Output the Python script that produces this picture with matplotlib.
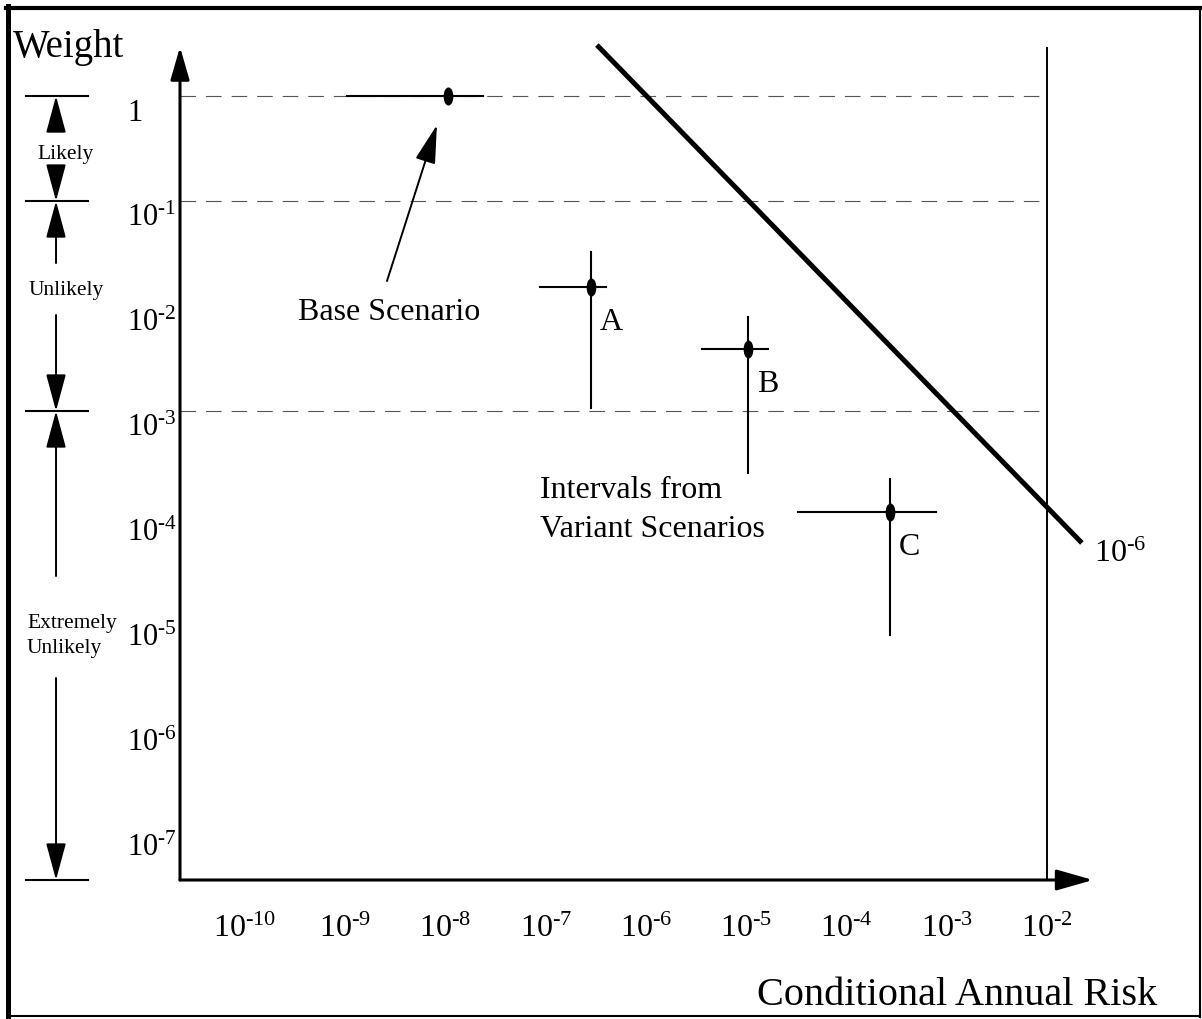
import matplotlib
matplotlib.use('Agg')
import matplotlib.pyplot as plt
import numpy as np
from matplotlib.path import Path
from matplotlib.transforms import Affine2D, ScaledTranslation
from matplotlib.lines import Line2D
from matplotlib.ticker import NullLocator

plt.rcParams['font.family'] = ['Liberation Serif', 'DejaVu Serif']
plt.rcParams['mathtext.fontset'] = 'custom'
plt.rcParams['mathtext.rm'] = 'Liberation Serif'
plt.rcParams['mathtext.it'] = 'Liberation Serif:italic'
plt.rcParams['mathtext.bf'] = 'Liberation Serif:bold'
plt.rcParams['mathtext.default'] = 'rm'

# %% data

x_ticks = [1e-10, 1e-9, 1e-8, 1e-7, 1e-6, 1e-5, 1e-4, 1e-3, 1e-2]
y_ticks = [1, 1e-1, 1e-2, 1e-3, 1e-4, 1e-5, 1e-6, 1e-7]
grid_levels = [1, 1e-1, 1e-3]

x_min, x_max = 10**-10.648, 10**-1.541
y_min, y_max = 10**-7.467, 10**0.467

scen_names = ['Base', 'A', 'B', 'C']
risk_mid = [1.06e-8, 2.82e-7, 1.04e-5, 2.72e-4]
risk_lo = [1.04e-9, 8.8e-8, 3.62e-6, 3.28e-5]
risk_hi = [2.37e-8, 3.99e-7, 1.65e-5, 7.82e-4]
weight_mid = [1, 0.0152, 3.89e-3, 1.09e-4]
weight_lo = [None, 1.07e-3, 2.57e-4, 7.36e-6]
weight_hi = [None, 0.0327, 7.85e-3, 2.25e-4]

# iso-risk line (weight x risk = 1e-6)
iso_x = [3.24e-7, 2.23e-2]
iso_y = [3.06, 5.53e-5]

band_names = ['Likely', 'Unlikely', 'Extremely\nUnlikely']
band_edges = [1, 1e-1, 1e-3, y_min]
band_text_y = [10**-0.56, 10**-1.85, 10**-5.14]

base_arrow_tail = (2.61e-9, 0.0173)
base_arrow_tip = (8.22e-9, 0.530)


def pow_label(v):
    e = int(round(np.log10(v)))
    if e == 0:
        return '1'
    return r'$10^{\text{-}%d}$' % (-e)


# %% figure

fig = plt.figure(figsize=(12.02, 10.19), dpi=100)
ax = fig.add_axes([180/1202, 139/1019, 913/1202, 833/1019])
ax.set_xscale('log')
ax.set_yscale('log')
ax.set_xlim(x_min, x_max)
ax.set_ylim(y_min, y_max)
for s in ax.spines.values():
    s.set_visible(False)
ax.patch.set_visible(False)

ax.set_xticks(x_ticks, labels=[pow_label(v) for v in x_ticks])
ax.xaxis.set_minor_locator(NullLocator())
ax.tick_params(axis='x', length=0, pad=25, labelsize=23)
ax.set_yticks([])
ax.yaxis.set_minor_locator(NullLocator())

ytrans = ax.get_yaxis_transform()
lab_trans = ytrans + ScaledTranslation(0, -0.25, fig.dpi_scale_trans)
for v in y_ticks:
    ax.text(-0.058, v, pow_label(v), transform=lab_trans, ha='left',
            va='baseline', fontsize=22, clip_on=False)

# axis arrows
ax.annotate('', xy=(0, 1), xytext=(0, 0), xycoords='axes fraction',
            arrowprops=dict(arrowstyle='-|>,head_length=1.0,head_width=0.29',
                            lw=2.2, color='k', shrinkA=0, shrinkB=0, mutation_scale=20))
ax.annotate('', xy=(1, 0), xytext=(0, 0), xycoords='axes fraction',
            arrowprops=dict(arrowstyle='-|>,head_length=1.12,head_width=0.32',
                            lw=2.2, color='k', shrinkA=0, shrinkB=0, mutation_scale=20))

# dashed levels and right-hand line
ax.hlines(grid_levels, x_min, 1e-2, colors='#555555', linestyles=(0, (14, 9)), lw=0.8)
ax.vlines(1e-2, y_min, y_max, colors='k', lw=1.4)

# 10^-6 line
ax.plot(iso_x, iso_y, color='k', lw=3.6, clip_on=False, solid_capstyle='butt')
ax.annotate(pow_label(1e-6), xy=(iso_x[1], iso_y[1]), xytext=(9, -14),
            textcoords='offset points', ha='left', va='baseline', fontsize=23)

# scenario intervals
dot = Path.unit_circle().transformed(Affine2D().scale(0.5, 1.0))
for i, name in enumerate(scen_names):
    ax.plot([risk_lo[i], risk_hi[i]], [weight_mid[i]] * 2, color='k', lw=1.5)
    if weight_lo[i] is not None:
        ax.plot([risk_mid[i]] * 2, [weight_lo[i], weight_hi[i]], color='k', lw=1.5)
        ax.annotate(name, xy=(risk_mid[i], weight_mid[i]), xytext=(6.5, -31),
                    textcoords='offset points', ha='left', va='baseline', fontsize=23)
    ax.plot(risk_mid[i], weight_mid[i], marker=dot, markersize=12, color='k', ls='none')

# base scenario pointer
ax.annotate('', xy=base_arrow_tip, xytext=base_arrow_tail,
            arrowprops=dict(arrowstyle='-|>,head_length=1.2,head_width=0.32',
                            lw=1.4, color='k', shrinkA=0, shrinkB=0, mutation_scale=20))
ax.text(10**-9.471, 10**-2.133, 'Base Scenario', ha='left', va='baseline', fontsize=23)
ax.text(8.8e-8, 10**-3.829, 'Intervals from', ha='left', va='baseline', fontsize=23)
ax.text(8.8e-8, 10**-4.2, 'Variant Scenarios', ha='left', va='baseline', fontsize=23)

# likelihood bands on the left
bar_x0, bar_x1, arr_x = -0.1687, -0.1008, -0.1358
up_len = [34, 62, 165]
down_len = [33, 96, 202]
for lvl in band_edges:
    ax.plot([bar_x0, bar_x1], [lvl, lvl], transform=ytrans, color='k', lw=1.5, clip_on=False)
band_style = dict(arrowstyle='-|>,head_length=1.15,head_width=0.31',
                  lw=1.4, color='k', shrinkA=0, shrinkB=0, mutation_scale=20)
for i, name in enumerate(band_names):
    top, bot = band_edges[i], band_edges[i + 1]
    ax.annotate('', xy=(arr_x, top), xycoords=ytrans, xytext=(0, -up_len[i] * 0.72),
                textcoords='offset points', arrowprops=band_style)
    ax.annotate('', xy=(arr_x, bot), xycoords=ytrans, xytext=(0, down_len[i] * 0.72),
                textcoords='offset points', arrowprops=band_style)
    if '\n' in name:
        ax.text(-0.1676, band_text_y[i], name, transform=ytrans, ha='left', va='center',
                fontsize=15.5, linespacing=1.45, clip_on=False)
    else:
        ax.text(arr_x + 0.011, band_text_y[i], name, transform=ytrans, ha='center',
                va='center', fontsize=15.5, clip_on=False)

fig.text(13/1202, 1 - 57/1019, 'Weight', ha='left', va='baseline', fontsize=28)
fig.text(1157/1202, 1 - 1005/1019, 'Conditional Annual Risk', ha='right',
         va='baseline', fontsize=29)

# frame
fig.add_artist(Line2D([7.5/1202, 7.5/1202], [0, 1 - 6/1019], transform=fig.transFigure,
                      color='k', lw=3.6))
fig.add_artist(Line2D([5.5/1202, 1], [1 - 8/1019, 1 - 8/1019], transform=fig.transFigure,
                      color='k', lw=3.0))
fig.add_artist(Line2D([1200/1202, 1200/1202], [1 - 1017/1019, 1 - 8/1019],
                      transform=fig.transFigure, color='k', lw=1.5))
fig.add_artist(Line2D([7.5/1202, 1200/1202], [1 - 1016/1019, 1 - 1016/1019],
                      transform=fig.transFigure, color='k', lw=1.5))

fig.savefig('out.png', dpi=100)
